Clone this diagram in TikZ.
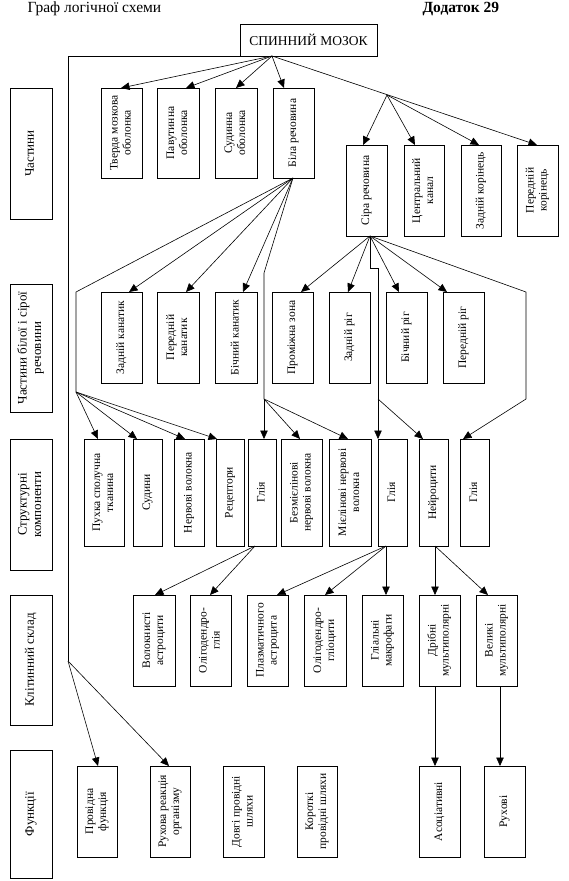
\documentclass[tikz,border=0pt]{standalone}
\usepackage{fontspec}
\setmainfont{Liberation Serif}
\usetikzlibrary{arrows.meta,calc}
\newcommand\mybox[7][box]{\node[#1,minimum width={(#5-#3)*1pt},minimum height={(#6-#4)*1pt}] (#2) at ({(#3+#5)/2},{(#4+#6)/2}) {\rotatebox{90}{\begin{tabular}{@{}c@{}}#7\end{tabular}}};}
\begin{document}
\begin{tikzpicture}[x=1pt,y=-1pt,
  box/.style={draw,line width=0.9pt,inner sep=0pt,outer sep=0pt,font=\fontsize{11.5}{13}\selectfont},
  lbl/.style={box,font=\fontsize{13}{14.5}\selectfont},
  arr/.style={-{Triangle[length=8.5pt,width=7.5pt]},line width=0.6pt},
  ln/.style={line width=0.6pt},
  frame/.style={line width=0.9pt}]
\useasboundingbox (0,0) rectangle (568,881);
\node[anchor=west,font=\fontsize{15.5}{17}\selectfont] (t1) at (24,9) {Граф логічної схеми};
\node[anchor=west,font=\fontsize{15.5}{17}\selectfont\bfseries] (t2) at (419,9) {Додаток 29};
\node[box,font=\fontsize{13.5}{15}\selectfont,minimum width=137pt,minimum height=32pt] (top) at (308.5,40) {СПИННИЙ МОЗОК};
% left labels
\mybox[lbl]{L1}{10}{88}{52}{219}{Частини}
\mybox[lbl]{L2}{10}{284}{52}{412}{Частини білої і сірої\\речовини}
\mybox[lbl]{L3}{10}{439}{52}{570}{Структурні\\компоненти}
\mybox[lbl]{L4}{10}{595}{52}{725}{Клітинний склад}
\mybox[lbl]{L5}{10}{750}{52}{878}{Функції}
% row 1
\mybox{a1}{101}{88}{142}{178}{Тверда мозкова\\оболонка}
\mybox{a2}{157}{88}{199}{178}{Павутинна\\оболонка}
\mybox{a3}{215}{88}{257}{178}{Судинна\\оболонка}
\mybox{a4}{273}{88}{314}{178}{Біла речовина}
\mybox{b1}{346}{145}{387}{236}{Сіра речовина}
\mybox{b2}{404}{145}{444}{236}{Центральний\\канал}
\mybox{b3}{461}{145}{501}{236}{Задній корінець}
\mybox{b4}{517}{145}{558}{236}{Передній\\корінець}
% row 2
\mybox{c1}{101}{292}{142}{383}{Задній канатик}
\mybox{c2}{157}{292}{199}{383}{Передній\\канатик}
\mybox{c3}{215}{292}{257}{383}{Бічний канатик}
\mybox{c4}{272}{292}{313}{383}{Проміжна зона}
\mybox{c5}{329}{292}{370}{383}{Задній ріг}
\mybox{c6}{386}{292}{427}{383}{Бічний ріг}
\mybox{c7}{443}{292}{484}{383}{Передній ріг}
% row 3
\mybox{d1}{84}{439}{124}{546}{Пухка сполучна\\тканина}
\mybox{d2}{133}{439}{162}{546}{Судини}
\mybox{d3}{174}{439}{204}{546}{Нервові волокна}
\mybox{d4}{216}{439}{244}{546}{Рецептори}
\mybox{d5}{248}{439}{276}{546}{Глія}
\mybox{d6}{281}{439}{322}{546}{Безмієлінові\\нервові волокна}
\mybox{d7}{329}{439}{371}{546}{Мієлінові нервові\\волокна}
\mybox{d8}{378}{439}{407}{546}{Глія}
\mybox{d9}{419}{439}{448}{546}{Нейроцити}
\mybox{d10}{460}{439}{489}{546}{Глія}
% row 4
\mybox{e1}{133}{595}{175}{686}{Волокнисті\\астроцити}
\mybox{e2}{190}{595}{231}{686}{Олігодендро-\\глія}
\mybox{e3}{247}{595}{288}{686}{Плазматичного\\астроцита}
\mybox{e4}{304}{595}{346}{686}{Олігодендро-\\гліоцити}
\mybox{e5}{362}{595}{403}{686}{Гліальні\\макрофаги}
\mybox{e6}{419}{595}{460}{686}{Дрібні\\мультиполярні}
\mybox{e7}{476}{595}{517}{686}{Великі\\мультиполярні}
% row 5
\mybox{f1}{77}{766}{117}{857}{Провідна\\функція}
\mybox{f2}{150}{766}{190}{857}{Рухова реакція\\організму}
\mybox{f3}{223}{766}{264}{857}{Довгі провідні\\шляхи}
\mybox{f4}{297}{766}{337}{857}{Короткі\\провідні шляхи}
\mybox{f5}{419}{766}{460}{857}{Асоціативні}
\mybox{f6}{484}{766}{525}{857}{Рухові}
% connectors from top
\coordinate (tp) at ([xshift=32pt]top.south west);
\draw[arr] (tp) -- ([xshift=20pt]a1.north west);
\draw[arr] (tp) -- ([xshift=29pt]a2.north west);
\draw[arr] (tp) -- ([xshift=21pt]a3.north west);
\draw[arr] (tp) -- ([xshift=11pt]a4.north west);
\draw[arr] (tp) -- ([xshift=20pt]b4.north west);
\coordinate (br) at (387,95);
\draw[arr] (br) -- ([xshift=17pt]b1.north west);
\draw[arr] (br) -- ([xshift=11pt]b2.north west);
\draw[arr] (br) -- ([xshift=18pt]b3.north west);
% left frame
\coordinate (lc) at (68,56);
\coordinate (lf) at (68,661);
\draw[frame] (top.south west) -- (lc) -- (lf);
\draw[arr] (lf) -- ([xshift=21pt]f1.north west);
\draw[arr] (lf) -- ([xshift=19pt]f2.north west);
% from Біла речовина
\coordinate (wb) at ([xshift=20pt]a4.south west);
\draw[arr] (wb) -- ([xshift=28pt]c1.north west);
\draw[arr] (wb) -- ([xshift=29pt]c2.north west);
\draw[arr] (wb) -- ([xshift=28pt]c3.north west);
\coordinate (j1) at (76,292);
\coordinate (j2) at (76,392);
\draw[ln] (wb) -- (j1) -- (j2);
\draw[arr] (j2) -- ([xshift=14pt]d1.north west);
\draw[arr] (j2) -- ([xshift=4pt]d2.north west);
\draw[arr] (j2) -- ([xshift=11pt]d3.north west);
\draw[arr] (j2) -- ([xshift=1pt]d4.north west);
\coordinate (j3) at (264,273);
\coordinate (j4) at (264,399);
\draw[ln] (wb) -- (j3) -- (j4);
\draw[arr] (j4) -- ([xshift=16pt]d5.north west);
\draw[arr] (j4) -- ([xshift=19pt]d6.north west);
\draw[arr] (j4) -- ([xshift=19pt]d7.north west);
% from Сіра речовина
\coordinate (gs) at ([xshift=24pt]b1.south west);
\draw[arr] (gs) -- ([xshift=29pt]c4.north west);
\draw[arr] (gs) -- ([xshift=19pt]c5.north west);
\draw[arr] (gs) -- ([xshift=13pt]c6.north west);
\draw[arr] (gs) -- ([xshift=4pt]c7.north west);
\coordinate (k1) at (370,268);
\coordinate (k2) at (378,268);
\coordinate (k3) at (378,399);
\draw[arr] (gs) -- (k1) -- (k2) -- (d8.north west);
\draw[arr] (k3) -- ([xshift=4pt]d9.north west);
\coordinate (m1) at (526,292);
\coordinate (m2) at (526,399);
\draw[arr] (gs) -- (m1) -- (m2) -- ([xshift=3pt]d10.north west);
% row 3 -> row 4
\coordinate (g1) at ([xshift=7pt]d5.south west);
\draw[arr] (g1) -- ([xshift=22pt]e1.north west);
\draw[arr] (g1) -- ([xshift=20pt]e2.north west);
\coordinate (g2) at ([xshift=8pt]d8.south west);
\draw[arr] (g2) -- ([xshift=30pt]e3.north west);
\draw[arr] (g2) -- ([xshift=21pt]e4.north west);
\draw[arr] (g2) -- ([xshift=24pt]e5.north west);
\coordinate (n1) at ([xshift=16pt]d9.south west);
\draw[arr] (n1) -- ([xshift=16pt]e6.north west);
\draw[arr] (n1) -- ([xshift=12pt]e7.north west);
% row 4 -> row 5
\draw[arr] ([xshift=16pt]e6.south west) -- ([xshift=16pt]f5.north west);
\draw[arr] ([xshift=24pt]e7.south west) -- ([xshift=16pt]f6.north west);
\end{tikzpicture}
\end{document}
